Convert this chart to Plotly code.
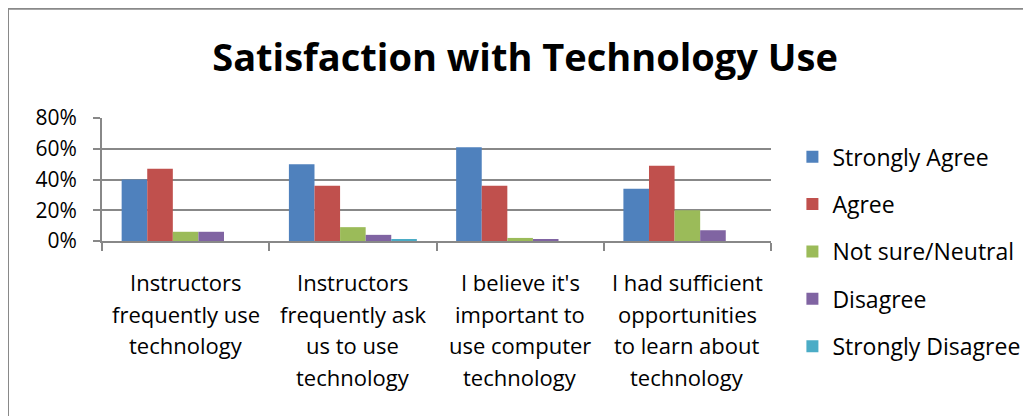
import plotly.graph_objects as go

# survey questions (category labels, split into lines as shown)
questions = [
    ["Instructors", "frequently use", "technology"],
    ["Instructors", "frequently ask", "us to use", "technology"],
    ["I believe it's", "important to", "use computer", "technology"],
    ["I had sufficient", "opportunities", "to learn about", "technology"],
]
cats = ["Q1", "Q2", "Q3", "Q4"]

# percentages per response
strongly_agree = [0.40, 0.50, 0.61, 0.34]
agree = [0.47, 0.36, 0.36, 0.49]
neutral = [0.06, 0.09, 0.02, 0.20]
disagree = [0.06, 0.04, 0.01, 0.07]
strongly_disagree = [0.0, 0.01, 0.0, 0.0]

series = [
    ("Strongly Agree", strongly_agree, "#4F81BD"),
    ("Agree", agree, "#C0504D"),
    ("Not sure/Neutral", neutral, "#9BBB59"),
    ("Disagree", disagree, "#8064A2"),
    ("Strongly Disagree", strongly_disagree, "#4BACC6"),
]

FONT = "'Open Sans', sans-serif"
GRID = "#888888"

fig = go.Figure()
for i, (name, vals, col) in enumerate(series):
    fig.add_trace(go.Bar(
        x=cats, y=vals, name=name, marker_color=col,
        marker_line_width=0, legendgroup=str(i),
    ))

# category labels drawn line by line for Excel-like line spacing
for c, lines in zip(cats, questions):
    for j, line in enumerate(lines):
        fig.add_annotation(
            x=c, xref="x", y=0, yref="paper", yanchor="middle",
            yshift=-41 - 31.7 * j, text=line, showarrow=False,
            font=dict(family=FONT, size=22, color="#000000"),
        )

# outer chart border
fig.add_shape(type="rect", xref="paper", yref="paper",
              x0=-0.1405, x1=1.45, y0=-1.6, y1=1.888,
              line=dict(color="#898989", width=2))

fig.update_layout(
    width=1031, height=416,
    margin=dict(l=94, r=268, t=110, b=183, autoexpand=False),
    paper_bgcolor="white", plot_bgcolor="white",
    title=dict(text="<b>Satisfaction with Technology Use</b>",
               x=0.5015, xref="container", xanchor="center",
               y=0.88, yanchor="middle",
               font=dict(family=FONT, size=38, color="#000000")),
    barmode="group", bargap=0.235, bargroupgap=0,
    showlegend=True,
    legend=dict(x=1.032, xanchor="left", y=0.86, yanchor="top",
                traceorder="grouped", tracegroupgap=14.5, maxheight=400,
                font=dict(family=FONT, size=23, color="#000000"),
                bgcolor="rgba(0,0,0,0)"),
    xaxis=dict(showticklabels=False, ticks="outside", tickson="boundaries",
               ticklen=8, tickcolor=GRID, tickwidth=2,
               showline=True, linecolor=GRID, linewidth=2,
               showgrid=False),
    yaxis=dict(range=[0, 0.8], dtick=0.2, tickformat=".0%",
               showgrid=True, gridcolor=GRID, gridwidth=2,
               ticks="outside", ticklen=7, tickcolor=GRID, tickwidth=2,
               showline=True, linecolor=GRID, linewidth=2,
               zeroline=False, ticklabelstandoff=12,
               tickfont=dict(family=FONT, size=21, color="#000000")),
)

fig.write_html("out.html")
